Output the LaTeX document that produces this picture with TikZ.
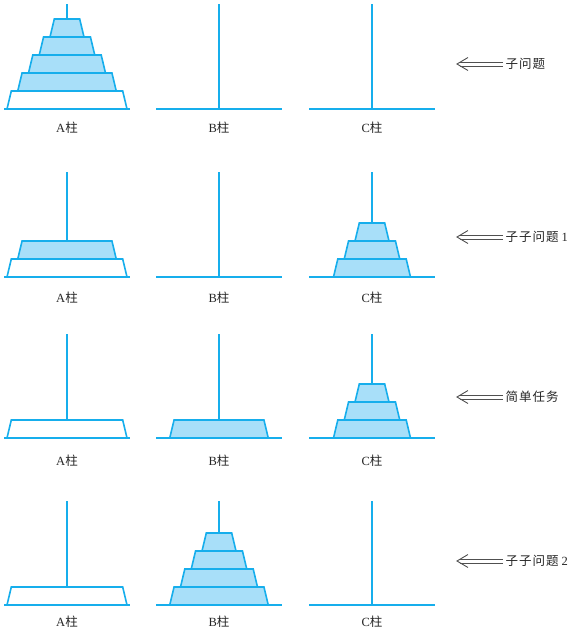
\documentclass[tikz,border=0pt]{standalone}
\usepackage{fontspec}
\setmainfont{Liberation Serif}
\newfontfamily\cjk{Noto Sans CJK SC}
\definecolor{hline}{RGB}{22,174,236}
\definecolor{hfill}{RGB}{168,223,249}
\definecolor{agray}{RGB}{80,80,80}
\newcommand{\hdisk}[4]{%
  \pgfmathsetmacro\hw{(120-21.5*(#3-1))/2}%
  \draw[diskline, fill=#4] (#1-\hw,#2) -- (#1-\hw+4.3,#2-18) -- (#1+\hw-4.3,#2-18) -- (#1+\hw,#2) -- cycle;
}
\newcommand{\hpeg}[3]{%
  \draw[pegline] (#1,#3) -- (#1,#2);
  \draw[pegline] (#1-63,#2) -- (#1+63,#2);
}
\newcommand{\darrow}[2]{%
  \draw[arrowline] ([yshift=2pt]#1.west) -- ([xshift=3.4pt,yshift=2pt]#2);
  \draw[arrowline] ([yshift=-2pt]#1.west) -- ([xshift=3.4pt,yshift=-2pt]#2);
  \draw[arrowline] ([xshift=11pt,yshift=6.5pt]#2) -- (#2) -- ([xshift=11pt,yshift=-6.5pt]#2);
}
\tikzset{
  x=1pt, y=-1pt,
  diskline/.style={draw=hline, line width=1.6pt, line join=miter},
  pegline/.style={draw=hline, line width=1.7pt},
  arrowline/.style={draw=agray, line width=0.9pt},
  lab/.style={inner sep=0pt, font=\fontsize{12.5}{14}\selectfont, text=black!85},
  rlab/.style={inner sep=2.5pt, anchor=west, font=\fontsize{12.5}{14}\selectfont, text=black!85},
}
\newcommand{\zh}[1]{{\cjk #1}}
\begin{document}
\begin{tikzpicture}
\useasboundingbox (0,0) rectangle (577,630);
% ---------- row 1 ----------
\hpeg{67}{109}{4}
\hpeg{219}{109}{4}
\hpeg{372}{109}{4}
\hdisk{67}{109}{1}{white}
\hdisk{67}{91}{2}{hfill}
\hdisk{67}{73}{3}{hfill}
\hdisk{67}{55}{4}{hfill}
\hdisk{67}{37}{5}{hfill}
\node[lab] (a1) at (67,128) {A\zh{柱}};
\node[lab] (b1) at (219,128) {B\zh{柱}};
\node[lab] (c1) at (372,128) {C\zh{柱}};
% ---------- row 2 ----------
\hpeg{67}{277}{172}
\hpeg{219}{277}{172}
\hpeg{372}{277}{172}
\hdisk{67}{277}{1}{white}
\hdisk{67}{259}{2}{hfill}
\hdisk{372}{277}{3}{hfill}
\hdisk{372}{259}{4}{hfill}
\hdisk{372}{241}{5}{hfill}
\node[lab] (a2) at (67,298) {A\zh{柱}};
\node[lab] (b2) at (219,298) {B\zh{柱}};
\node[lab] (c2) at (372,298) {C\zh{柱}};
% ---------- row 3 ----------
\hpeg{67}{438}{334}
\hpeg{219}{438}{334}
\hpeg{372}{438}{334}
\hdisk{67}{438}{1}{white}
\hdisk{219}{438}{2}{hfill}
\hdisk{372}{438}{3}{hfill}
\hdisk{372}{420}{4}{hfill}
\hdisk{372}{402}{5}{hfill}
\node[lab] (a3) at (67,461) {A\zh{柱}};
\node[lab] (b3) at (219,461) {B\zh{柱}};
\node[lab] (c3) at (372,461) {C\zh{柱}};
% ---------- row 4 ----------
\hpeg{67}{605}{501}
\hpeg{219}{605}{501}
\hpeg{372}{605}{501}
\hdisk{67}{605}{1}{white}
\hdisk{219}{605}{2}{hfill}
\hdisk{219}{587}{3}{hfill}
\hdisk{219}{569}{4}{hfill}
\hdisk{219}{551}{5}{hfill}
\node[lab] (a4) at (67,622) {A\zh{柱}};
\node[lab] (b4) at (219,622) {B\zh{柱}};
\node[lab] (c4) at (372,622) {C\zh{柱}};
% ---------- side notes ----------
\node[rlab] (t1) at (503,64) {\zh{子\hspace{1pt}问\hspace{1pt}题}};
\node[rlab] (t2) at (503,237) {\zh{子\hspace{1pt}子\hspace{1pt}问\hspace{1pt}题}\hspace{3pt}1};
\node[rlab] (t3) at (503,397) {\zh{简\hspace{1pt}单\hspace{1pt}任\hspace{1pt}务}};
\node[rlab] (t4) at (503,561) {\zh{子\hspace{1pt}子\hspace{1pt}问\hspace{1pt}题}\hspace{3pt}2};
\coordinate (e1) at (457,64);
\coordinate (e2) at (457,237);
\coordinate (e3) at (457,397);
\coordinate (e4) at (457,561);
\darrow{t1}{e1}
\darrow{t2}{e2}
\darrow{t3}{e3}
\darrow{t4}{e4}
\end{tikzpicture}
\end{document}
